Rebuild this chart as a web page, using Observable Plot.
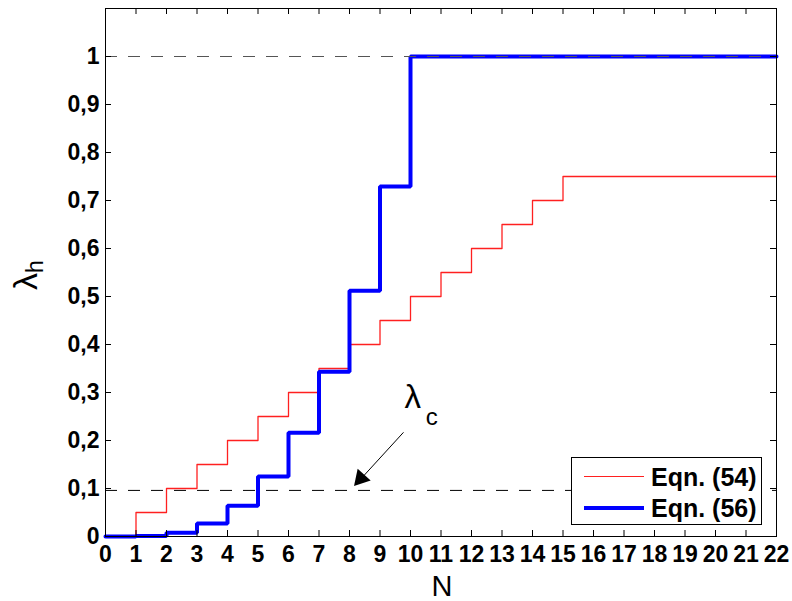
<!DOCTYPE html>
<html><head><meta charset="utf-8">
<script src="https://cdn.jsdelivr.net/npm/d3@7"></script>
<script src="https://cdn.jsdelivr.net/npm/@observablehq/plot@0.6"></script>
<style>
body{margin:0;background:#fff;}
#wrap{position:relative;width:792px;height:601px;font-family:"Liberation Sans",Arial,sans-serif;}
#chart svg [aria-label$="tick label"]{font-size:23px;font-weight:bold;}
#chart svg [aria-label$="tick label"] text{font-size:23px;font-weight:bold;}
#legend{position:absolute;left:571px;top:457px;width:191px;height:68px;border:1px solid #000;background:#fff;box-sizing:border-box;}
.row{position:absolute;left:0;height:30px;width:100%;}
.sw{position:absolute;left:12px;width:60px;}
.lt{position:absolute;left:79px;font-weight:bold;font-size:25px;line-height:30px;color:#000;white-space:nowrap;}
#xl{position:absolute;left:442px;top:571px;transform:translateX(-50%);font-size:29px;line-height:30px;}
#yl{position:absolute;left:27px;top:275px;transform:translate(-50%,-50%) rotate(-90deg);font-size:34px;white-space:nowrap;}
#yl sub{font-size:23px;vertical-align:-6px;}
</style></head>
<body><div id="wrap"><div id="chart"></div>
<div id="legend">
 <div class="row" style="top:4px"><div class="sw" style="top:14px;border-top:1.3px solid #ff2020"></div><div class="lt">Eqn. (54)</div></div>
 <div class="row" style="top:35px"><div class="sw" style="top:13px;border-top:4px solid #0000ff"></div><div class="lt">Eqn. (56)</div></div>
</div>
<div id="xl">N</div>
<div id="yl">λ<sub>h</sub></div>
</div>
<script>
const N = [0,1,2,3,4,5,6,7,8,9,10,11,12,13,14,15,16,17,18,19,20,21,22];
const eqn54 = [0,0.05,0.10,0.15,0.20,0.25,0.30,0.35,0.40,0.45,0.50,0.55,0.60,0.65,0.70,0.75,0.75,0.75,0.75,0.75,0.75,0.75,0.75];
const eqn56 = [0,0.001,0.008,0.027,0.064,0.125,0.216,0.343,0.512,0.729,1,1,1,1,1,1,1,1,1,1,1,1,1];
const xTicks = [0,1,2,3,4,5,6,7,8,9,10,11,12,13,14,15,16,17,18,19,20,21,22];
const yTicks = [0,0.1,0.2,0.3,0.4,0.5,0.6,0.7,0.8,0.9,1];
const yTickLabels = ["0","0,1","0,2","0,3","0,4","0,5","0,6","0,7","0,8","0,9","1"];
const lambdaH = 1;
const lambdaC = 0.096;

const W = 792, H = 601, mL = 105, mR = 16, mT = 8, mB = 65;
const pw = W - mL - mR, ph = H - mT - mB;
const red = N.map((n, i) => ({n, v: eqn54[i]}));
const blue = N.map((n, i) => ({n, v: eqn56[i]}));
const arrow = [{x1: 9.77, y1: 0.217, x2: 8.2, y2: 0.108}];

const chart = Plot.plot({
  width: W, height: H,
  marginLeft: mL, marginRight: mR, marginTop: mT, marginBottom: mB,
  style: {fontFamily: "'Liberation Sans', Arial, sans-serif", background: "#fff", color: "#000"},
  x: {domain: [0, 22]},
  y: {domain: [0, 1.1]},
  marks: [
    Plot.axisX({ticks: xTicks, tickSize: 0, tickPadding: 9, fontSize: 23, fontWeight: "bold", label: null, tickFormat: d => String(d)}),
    Plot.axisY({ticks: yTicks, tickSize: 0, tickPadding: 6, fontSize: 23, fontWeight: "bold", label: null, tickFormat: d => yTickLabels[yTicks.indexOf(d)]}),
    Plot.lineY(red, {x: "n", y: "v", curve: "step-after", stroke: "#ff2020", strokeWidth: 1.3}),
    Plot.lineY(blue, {x: "n", y: "v", curve: "step-after", stroke: "#0000ff", strokeWidth: 4, strokeLinejoin: "miter"}),
    Plot.ruleY([lambdaH], {stroke: "#555", strokeWidth: 1, strokeDasharray: "12,11"}),
    Plot.ruleY([lambdaC], {stroke: "#000", strokeWidth: 1, strokeDasharray: "12,11"}),
    Plot.link(arrow, {x1: "x1", y1: "y1", x2: "x2", y2: "y2", stroke: "#000", strokeWidth: 1}),
    Plot.dot(arrow, {x: d => d.x2 + 0.17, y: d => d.y2 + 0.013, symbol: "triangle", r: 6.5, fill: "#000", stroke: "none", rotate: 222}),
    Plot.text([{x: 10.07, y: 0.267}], {x: "x", y: "y", text: () => "λ", fontSize: 33, textAnchor: "middle", lineAnchor: "bottom", fill: "#000"}),
    Plot.text([{x: 10.07, y: 0.267}], {x: "x", y: "y", text: () => "c", fontSize: 24, dx: 19, dy: 17, textAnchor: "middle", lineAnchor: "bottom", fill: "#000"}),
    Plot.tickX(xTicks, {x: d => d, insetTop: ph - 6, stroke: "#000"}),
    Plot.tickX(xTicks, {x: d => d, insetBottom: ph - 6, stroke: "#000"}),
    Plot.tickY(yTicks, {y: d => d, insetRight: pw - 6, stroke: "#000"}),
    Plot.tickY(yTicks, {y: d => d, insetLeft: pw - 6, stroke: "#000"}),
    Plot.frame({stroke: "#000", strokeWidth: 1})
  ]
});
document.getElementById("chart").appendChild(chart);
</script>
</body></html>
